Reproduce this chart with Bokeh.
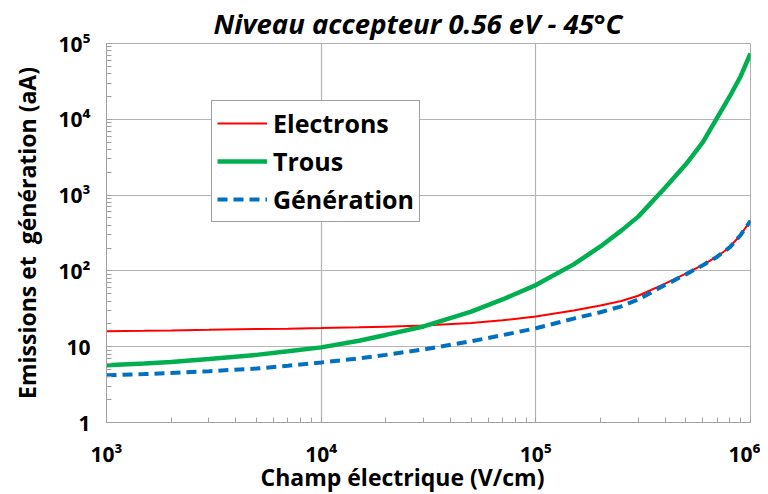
from bokeh.plotting import figure
from bokeh.models import Range1d, Legend, LegendItem, Title
from bokeh.embed import file_html
from bokeh.resources import INLINE

# Data
champ = [1e3, 1.5e3, 2e3, 3e3, 5e3, 7e3, 1e4, 1.5e4, 2e4, 3e4, 5e4, 7e4,
         1e5, 1.5e5, 2e5, 2.5e5, 3e5, 4e5, 5e5, 6e5, 7e5, 8e5, 9e5, 1e6]
electrons = [16, 16.2, 16.4, 16.7, 17.1, 17.3, 17.6, 18.0, 18.4, 19.0, 20.6, 22.3,
             25, 30, 35, 40, 47, 68, 92, 120, 155, 205, 300, 460]
trous = [5.7, 6.0, 6.3, 6.9, 7.8, 8.7, 9.8, 12.0, 14.3, 18.5, 29, 42,
         65, 122, 210, 340, 520, 1250, 2550, 5000, 10500, 20000, 37000, 74000]
generation = [4.2, 4.35, 4.5, 4.75, 5.15, 5.6, 6.2, 7.0, 7.8, 9.2, 11.8, 14.2,
              17.5, 23.5, 28.5, 34, 42, 65, 90, 119, 154, 204, 298, 458]

x_ticks = [1e3, 1e4, 1e5, 1e6]
x_tick_labels = ["10³", "10⁴", "10⁵", "10⁶"]
y_ticks = [1, 10, 100, 1e3, 1e4, 1e5]
y_tick_labels = ["1", "10", "10²", "10³", "10⁴", "10⁵"]

title_text = "Niveau accepteur 0.56 eV - 45°C"
x_label = "Champ électrique (V/cm)"
y_label = "Emissions et\u00a0 génération (aA)"

FONT = "Open Sans"

p = figure(width=760, height=494, x_axis_type="log", y_axis_type="log",
           x_range=Range1d(1e3, 1e6), y_range=Range1d(1, 1e5),
           output_backend="svg", toolbar_location=None,
           min_border_left=106, min_border_right=10, min_border_top=43,
           min_border_bottom=72)

p.title = Title(text=title_text, align="left", offset=107,
                vertical_align="top", standoff=0,
                text_font=FONT, text_font_size="27.5px",
                text_font_style="bold italic", text_color="black")

p.outline_line_color = "#b0b0b0"
p.background_fill_color = "white"
p.border_fill_color = "white"

for ax, ticks, labels in ((p.xaxis[0], x_ticks, x_tick_labels), (p.yaxis[0], y_ticks, y_tick_labels)):
    ax.major_label_overrides = {t: l for t, l in zip(ticks, labels)}
    ax.axis_line_color = "#a0a0a0"
    ax.major_tick_line_color = "#a0a0a0"
    ax.minor_tick_line_color = "#a0a0a0"
    ax.major_tick_in = 0
    ax.major_tick_out = 0
    ax.minor_tick_in = 5
    ax.minor_tick_out = 0
    ax.major_label_text_font = FONT
    ax.major_label_text_font_size = "21px"
    ax.major_label_text_font_style = "bold"
    ax.major_label_text_color = "black"
    ax.axis_label_text_font = FONT
    ax.axis_label_text_font_style = "bold"
    ax.axis_label_text_color = "black"

p.yaxis.axis_label = y_label
p.yaxis.axis_label_text_font_size = "23px"
p.xaxis.major_label_standoff = 17
p.yaxis.major_label_standoff = 16
p.yaxis.axis_label_standoff = 13

# x-axis title placed below the axis, shifted left like the reference
p.add_layout(Title(text=x_label, align="left", offset=154, standoff=-24,
                   text_font=FONT, text_font_size="23px",
                   text_font_style="bold", text_color="black"), "below")

p.xgrid.grid_line_color = "#b4b4b4"
p.ygrid.grid_line_color = "#b4b4b4"
p.xgrid.grid_line_width = 1.2
p.ygrid.grid_line_width = 1.2

r_e = p.line(champ, electrons, line_color="#ff0000", line_width=2)
r_t = p.line(champ, trous, line_color="#00b050", line_width=4.5)
r_g = p.line(champ, generation, line_color="#0070c0", line_width=4, line_dash="10 6")

legend = Legend(items=[LegendItem(label="Electrons", renderers=[r_e]),
                       LegendItem(label="Trous", renderers=[r_t]),
                       LegendItem(label="Génération", renderers=[r_g])],
                location=(105, 200))
legend.label_text_font = FONT
legend.label_text_font_size = "25px"
legend.label_text_font_style = "bold"
legend.label_text_color = "black"
legend.glyph_width = 50
legend.glyph_height = 30
legend.label_height = 30
legend.spacing = 4
legend.padding = 5
legend.margin = 0
legend.label_standoff = 6
legend.border_line_color = "#404040"
legend.border_line_width = 1.2
legend.background_fill_alpha = 1
p.add_layout(legend)

open("out.html", "w").write(file_html(p, INLINE))
